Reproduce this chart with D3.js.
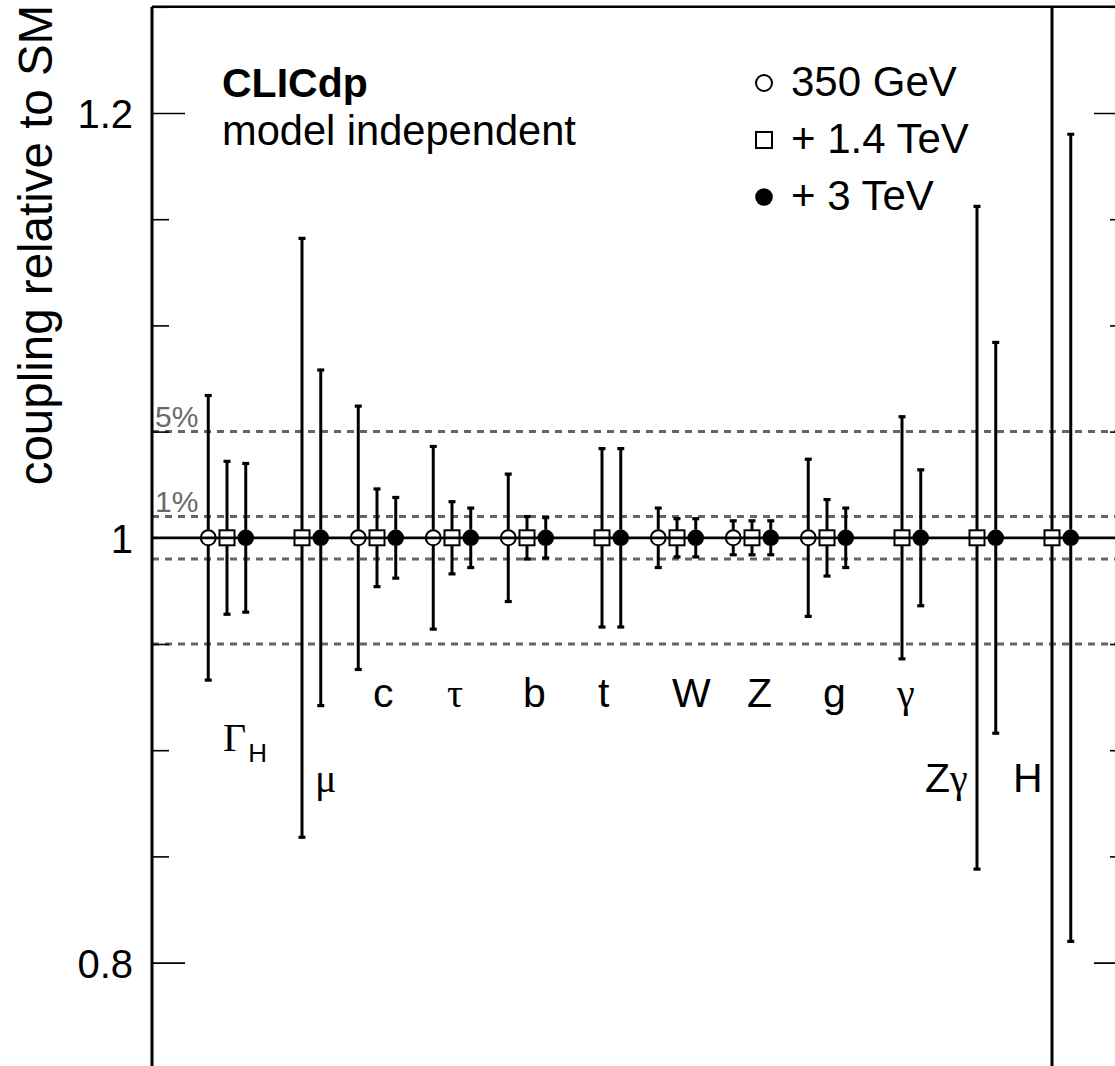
<!DOCTYPE html>
<html>
<head>
<meta charset="utf-8">
<script src="https://cdn.jsdelivr.net/npm/d3@7"></script>
<style>
  html, body { margin: 0; padding: 0; background: #fff; }
  svg { display: block; }
  text { font-family: "Liberation Sans", Arial, Helvetica, sans-serif; }
  .greek { font-family: "Liberation Serif", "Times New Roman", serif; }
</style>
</head>
<body>
<svg id="chart" width="1115" height="1066"></svg>
<script>
// Higgs couplings (relative precision, %) from the model-independent fit
const categories = ["ΓH", "μ", "c", "τ", "b", "t", "W", "Z", "g", "γ", "Zγ", "H"];
const err350  = [6.7, null, 6.2, 4.3, 3.0, null, 1.4, 0.8, 3.7, null, null, null];
const err1400 = [3.6, 14.1, 2.3, 1.7, 1.0, 4.2, 0.9, 0.8, 1.8, 5.7, 15.6, 35];
const err3000 = [3.5, 7.9, 1.9, 1.4, 0.95, 4.2, 0.9, 0.8, 1.4, 3.2, 9.2, 19];
const seriesNames = ["350 GeV", "+ 1.4 TeV", "+ 3 TeV"];
const smValue = 1.0;
const referenceBands = [1, 5];          // dashed guides at ±1% and ±5%
const majorTicks = [0.8, 1.0, 1.2];
const minorTicks = d3.range(0.75, 1.2501, 0.05).map(v => +v.toFixed(2));

const svg = d3.select("#chart");

// plot frame
const frameL = 152, frameR = 1127, frameT = 6.8, frameB = 1068.8;
const x = d3.scaleLinear().domain([-1, 12]).range([frameL, frameR]);
const y = d3.scaleLinear().domain([0.75, 1.25]).range([frameB, frameT]);

svg.append("defs").append("clipPath").attr("id", "plotClip")
  .append("rect").attr("x", frameL).attr("y", frameT)
  .attr("width", frameR - frameL).attr("height", frameB - frameT);

const plot = svg.append("g").attr("clip-path", "url(#plotClip)");

// dashed precision guides
referenceBands.forEach(p => {
  [smValue + p / 100, smValue - p / 100].forEach(v => {
    plot.append("line")
      .attr("x1", frameL).attr("x2", frameR)
      .attr("y1", y(v)).attr("y2", y(v))
      .attr("stroke", "#666").attr("stroke-width", 3)
      .attr("stroke-dasharray", "7,6");
  });
});

// percent labels
referenceBands.forEach(p => {
  svg.append("text")
    .attr("x", 155).attr("y", y(smValue + p / 100) - 5)
    .attr("font-size", 30).attr("fill", "#6a6a6a")
    .text(p + "%");
});

// SM reference line
plot.append("line")
  .attr("x1", frameL).attr("x2", frameR)
  .attr("y1", y(smValue)).attr("y2", y(smValue))
  .attr("stroke", "#000").attr("stroke-width", 2.8);

// series definitions: offset within category, marker type, errors
const series = [
  { name: seriesNames[0], errs: err350,  offset: -0.25, marker: "openCircle" },
  { name: seriesNames[1], errs: err1400, offset: 0,     marker: "openSquare" },
  { name: seriesNames[2], errs: err3000, offset: 0.25,  marker: "fullCircle" }
];
const half = 8;

function drawMarker(g, type, cx, cy, r) {
  if (type === "openCircle") {
    g.append("circle").attr("cx", cx).attr("cy", cy).attr("r", r - 0.5)
      .attr("fill", "none").attr("stroke", "#000").attr("stroke-width", 2);
  } else if (type === "openSquare") {
    g.append("rect").attr("x", cx - r + 0.5).attr("y", cy - r + 0.5)
      .attr("width", 2 * r - 1).attr("height", 2 * r - 1)
      .attr("fill", "none").attr("stroke", "#000").attr("stroke-width", 2);
  } else {
    g.append("circle").attr("cx", cx).attr("cy", cy).attr("r", r + 0.3).attr("fill", "#000");
  }
}

series.forEach(s => {
  const pts = s.errs.map((e, i) => ({ i, e })).filter(d => d.e !== null);
  const g = plot.append("g");
  pts.forEach(d => {
    const cx = x(d.i + s.offset);
    const hi = y(smValue + d.e / 100), lo = y(smValue - d.e / 100), c = y(smValue);
    g.append("line").attr("x1", cx).attr("x2", cx).attr("y1", hi).attr("y2", c - half)
      .attr("stroke", "#000").attr("stroke-width", 3);
    g.append("line").attr("x1", cx).attr("x2", cx).attr("y1", c + half).attr("y2", lo)
      .attr("stroke", "#000").attr("stroke-width", 3);
    [hi, lo].forEach(yy => {
      g.append("line").attr("x1", cx - 3.5).attr("x2", cx + 3.5).attr("y1", yy).attr("y2", yy)
        .attr("stroke", "#000").attr("stroke-width", 3.2);
    });
  });
  pts.forEach(d => {
    drawMarker(g, s.marker, x(d.i + s.offset), y(smValue), half);
  });
});

// axes
const fmt = d => d === 1 ? "1" : d3.format(".1f")(d);
const minorOnly = minorTicks.filter(v => !majorTicks.some(m => Math.abs(m - v) < 1e-6));
const leftMajor = d3.axisLeft(y).tickValues(majorTicks).tickSize(-33).tickPadding(19).tickFormat(fmt);
const leftMinor = d3.axisLeft(y).tickValues(minorOnly).tickSize(-17).tickFormat("");
const rightMajor = d3.axisRight(y).tickValues(majorTicks).tickSize(-33).tickFormat("");
const rightMinor = d3.axisRight(y).tickValues(minorOnly).tickSize(-17).tickFormat("");

function styleAxis(sel) {
  sel.select(".domain").remove();
  sel.selectAll(".tick line").attr("stroke", "#000").attr("stroke-width", 1.6);
  sel.selectAll(".tick text").attr("font-size", 40).attr("fill", "#000")
    .attr("font-family", "Liberation Sans, Arial, sans-serif").attr("dy", "0.37em");
}
svg.append("g").attr("transform", `translate(${frameL},0)`).call(leftMajor).call(styleAxis);
svg.append("g").attr("transform", `translate(${frameL},0)`).call(leftMinor).call(styleAxis);
svg.append("g").attr("transform", `translate(${frameR},0)`).call(rightMajor).call(styleAxis);
svg.append("g").attr("transform", `translate(${frameR},0)`).call(rightMinor).call(styleAxis);

// frame
svg.append("line").attr("x1", frameL).attr("x2", frameL).attr("y1", frameT).attr("y2", frameB)
  .attr("stroke", "#000").attr("stroke-width", 3);
svg.append("line").attr("x1", frameL).attr("x2", frameR).attr("y1", frameT).attr("y2", frameT)
  .attr("stroke", "#000").attr("stroke-width", 2.5);
svg.append("line").attr("x1", frameR).attr("x2", frameR).attr("y1", frameT).attr("y2", frameB)
  .attr("stroke", "#000").attr("stroke-width", 3);

// y-axis title
svg.append("text")
  .attr("transform", `translate(52, ${frameT - 2}) rotate(-90)`)
  .attr("text-anchor", "end").attr("font-size", 47.5).attr("fill", "#000")
  .text("coupling relative to SM");

// category labels: [dx from category centre, baseline value]
const labelRows = { upper: 0.9204, middle: 0.8997, lower: 0.8804 };
const labelLayout = [
  { dx: -4,  row: "middle" }, { dx: 13, row: "lower" }, { dx: -4, row: "upper" },
  { dx: -5,  row: "upper" },  { dx: -4, row: "upper" }, { dx: -4, row: "upper" },
  { dx: -5,  row: "upper" },  { dx: -5, row: "upper" }, { dx: -4, row: "upper" },
  { dx: -5,  row: "upper" },  { dx: -52, row: "lower" }, { dx: -39, row: "lower" }
];
const isGreek = ch => /[\u0370-\u03ff]/.test(ch);

categories.forEach((name, i) => {
  const lay = labelLayout[i];
  const t = svg.append("text")
    .attr("x", x(i) + lay.dx).attr("y", y(labelRows[lay.row]))
    .attr("font-size", 41).attr("fill", "#000");
  if (name === "ΓH") {
    t.append("tspan").attr("class", "greek").attr("font-size", 40).text("Γ");
    t.append("tspan").attr("font-size", 26).attr("dx", 2).attr("dy", 11).text("H");
  } else {
    [...name].forEach(ch => {
      const sp = t.append("tspan").text(ch);
      if (isGreek(ch)) sp.attr("class", "greek").attr("font-size", 40);
    });
  }
});

// experiment label
svg.append("text").attr("x", 222).attr("y", 97).attr("font-size", 41)
  .attr("font-weight", "bold").attr("fill", "#000").text("CLICdp");
svg.append("text").attr("x", 222).attr("y", 145).attr("font-size", 41.6)
  .attr("fill", "#000").text("model independent");

// legend
const legendX = 764, legendY0 = 83, legendStep = 57;
series.forEach((s, k) => {
  const cy = legendY0 + k * legendStep;
  drawMarker(svg.append("g"), s.marker, legendX, cy, 8.5);
  svg.append("text").attr("x", 791).attr("y", cy + 12.5)
    .attr("font-size", 42).attr("fill", "#000").text(s.name);
});
</script>
</body>
</html>
